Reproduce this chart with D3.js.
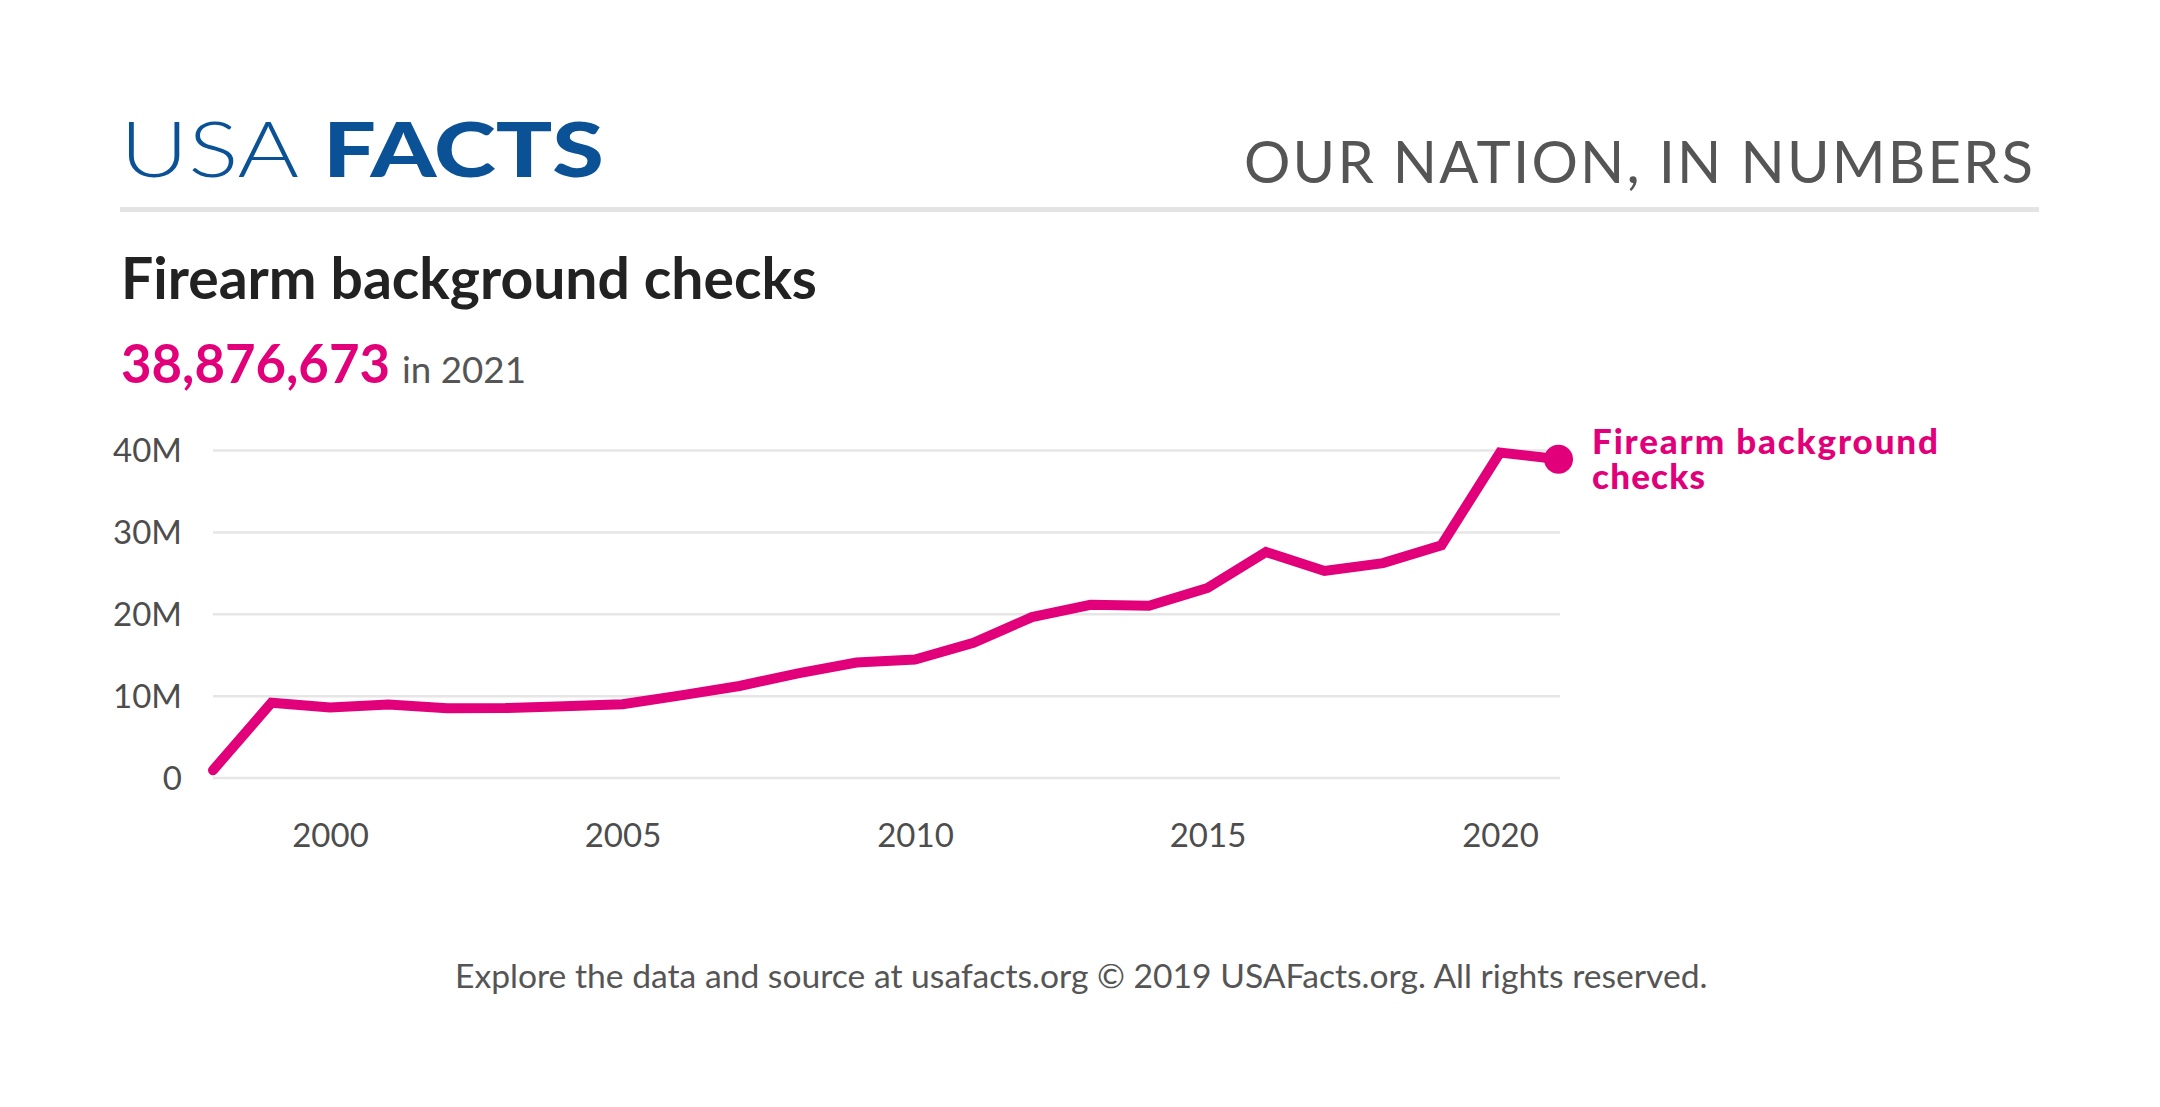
<!DOCTYPE html>
<html>
<head>
<meta charset="utf-8">
<script src="https://cdn.jsdelivr.net/npm/d3@7"></script>
<style>
  html, body { margin: 0; padding: 0; background: #fff; }
  svg { display: block; }
  text { font-family: Lato, "Open Sans", sans-serif; }
</style>
</head>
<body>
<svg id="chart" width="2160" height="1107"></svg>
<script>
// ---- Data ----
const years = [1998,1999,2000,2001,2002,2003,2004,2005,2006,2007,2008,2009,2010,2011,2012,2013,2014,2015,2016,2017,2018,2019,2020,2021];
const checks = [892840,9138123,8543037,8910191,8454322,8481588,8687671,8952945,10036933,11177223,12709023,14033824,14409616,16454951,19592303,21093273,20968547,23141970,27538673,25235215,26181936,28369750,39695315,38876673];
const yTicks = [0, 10000000, 20000000, 30000000, 40000000];
const yTickLabels = ["0", "10M", "20M", "30M", "40M"];
const xTicks = [2000, 2005, 2010, 2015, 2020];
const seriesName = ["Firearm background", "checks"];
const titleText = "Firearm background checks";
const headlineValue = "38,876,673";
const headlineSuffix = "in 2021";
const footerText = "Explore the data and source at usafacts.org \u00A9 2019 USAFacts.org. All rights reserved.";

// ---- Layout ----
const PINK = "#e2007a";
const BLUE = "#0a5196";
const svg = d3.select("#chart");

function fit(sel, targetWidth) {
  const w = sel.node().getComputedTextLength();
  const fs = parseFloat(sel.attr("font-size"));
  sel.attr("font-size", fs * targetWidth / w);
  return sel;
}

// Logo
const logo = svg.append("text").attr("x", 120).attr("y", 177).attr("fill", BLUE).attr("font-size", 77);
logo.append("tspan").attr("font-weight", 300).text("USA")
  .attr("textLength", 179).attr("lengthAdjust", "spacingAndGlyphs");
logo.append("tspan").attr("font-weight", 900).attr("dx", 24).text("FACTS")
  .attr("textLength", 281).attr("lengthAdjust", "spacingAndGlyphs");

// Tagline
svg.append("text").attr("x", 2039).attr("y", 183).attr("text-anchor", "end")
  .attr("fill", "#555").attr("font-size", 58).attr("font-weight", 400)
  .attr("letter-spacing", 6)
  .attr("textLength", 795).attr("lengthAdjust", "spacing")
  .text("OUR NATION, IN NUMBERS");

// Separator
svg.append("rect").attr("x", 120).attr("y", 207).attr("width", 1919).attr("height", 5).attr("fill", "#e4e4e4");

// Title
fit(svg.append("text").attr("x", 121).attr("y", 299).attr("fill", "#222")
  .attr("font-size", 56).attr("font-weight", 700).text(titleText), 696);

// Headline
fit(svg.append("text").attr("x", 121).attr("y", 383).attr("fill", PINK)
  .attr("font-size", 52).attr("font-weight", 700).text(headlineValue), 269);
fit(svg.append("text").attr("x", 402).attr("y", 383).attr("fill", "#555")
  .attr("font-size", 38).attr("font-weight", 400).text(headlineSuffix), 124);

// ---- Chart ----
const x = d3.scaleLinear().domain([1998, 2021]).range([213, 1558.5]);
const y = d3.scaleLinear().domain([0, 40000000]).range([777.5, 450]);

// Gridlines + y labels
const yAxis = d3.axisLeft(y).tickValues(yTicks).tickSize(-(1560 - 213))
  .tickFormat((d,i)=>yTickLabels[i]).tickPadding(31);
const gy = svg.append("g").attr("transform", "translate(213,0)").call(yAxis);
gy.select(".domain").remove();
gy.selectAll(".tick line").attr("stroke", "#e6e6e6").attr("stroke-width", 2.5);
gy.selectAll(".tick text").attr("font-size", 33).attr("fill", "#4d4d4d").attr("font-family", "Lato").attr("dy", "0.35em");

// X labels
const xAxis = d3.axisBottom(x).tickValues(xTicks).tickFormat(d3.format("d")).tickSize(0).tickPadding(0);
const gx = svg.append("g").attr("transform", "translate(0,847)").call(xAxis);
gx.select(".domain").remove();
gx.selectAll(".tick text").attr("font-size", 33).attr("fill", "#4d4d4d").attr("font-family", "Lato").attr("dy", 0);

// Line
const line = d3.line().x((d,i)=>x(years[i])).y(d=>y(d));
svg.append("path").datum(checks).attr("d", line).attr("fill", "none")
  .attr("stroke", PINK).attr("stroke-width", 10).attr("stroke-linejoin", "miter").attr("stroke-linecap", "round");

// End dot
const last = checks.length - 1;
svg.append("circle").attr("cx", x(years[last])).attr("cy", y(checks[last])).attr("r", 14.5).attr("fill", PINK);

// Series label
const sl = svg.append("text").attr("x", 1592).attr("fill", PINK).attr("font-size", 35).attr("font-weight", 900);
sl.append("tspan").attr("x", 1592).attr("y", 454).text(seriesName[0])
  .attr("textLength", 346).attr("lengthAdjust", "spacing");
sl.append("tspan").attr("x", 1592).attr("y", 489).text(seriesName[1])
  .attr("textLength", 113).attr("lengthAdjust", "spacing");

// Footer
fit(svg.append("text").attr("x", 455).attr("y", 988).attr("fill", "#555")
  .attr("font-size", 33).attr("font-weight", 400).text(footerText), 1253);
</script>
</body>
</html>
